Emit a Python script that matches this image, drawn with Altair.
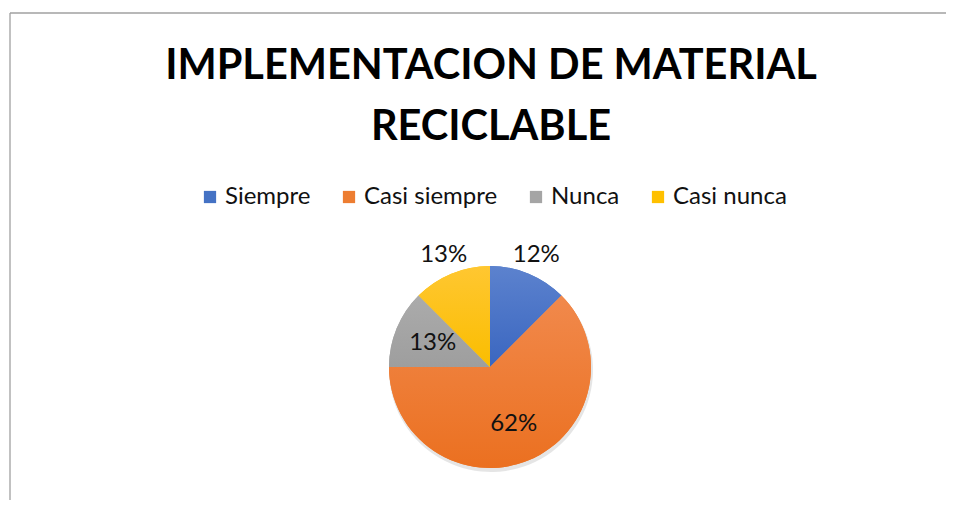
import altair as alt
import pandas as pd

categories = ["Siempre", "Casi siempre", "Nunca", "Casi nunca"]
values = [12.5, 62.5, 12.5, 12.5]
labels = ["12%", "62%", "13%", "13%"]
colors = ["#4472C4", "#ED7D31", "#A5A5A5", "#FFC000"]
light = ["#5C82CE", "#F1894C", "#ABABAB", "#FFC731"]
dark = ["#3A66C0", "#EB7020", "#9E9E9E", "#FABD00"]
outside = ["Siempre", "Casi nunca"]
title_lines = ["IMPLEMENTACION DE MATERIAL", "RECICLABLE"]

df = pd.DataFrame({
    "categoria": categories,
    "valor": values,
    "etiqueta": labels,
    "orden": list(range(len(categories))),
})

W, H = 938, 492
CX, CY = 482, 359
R = 101
FONT = "Lato"
TWO_PI = 6.283185307

color = alt.Color(
    "categoria:N",
    scale=alt.Scale(domain=categories, range=colors),
    sort=categories,
    legend=alt.Legend(
        title=None,
        orient="none",
        legendX=190,
        legendY=177,
        direction="horizontal",
        symbolType="square",
        symbolSize=150,
        symbolStrokeWidth=0,
        labelFont=FONT,
        labelFontSize=24,
        labelColor="#111111",
        labelOffset=3,
        columnPadding=26,
        padding=0,
    ),
)

ang = alt.Scale(domain=[0, 1], range=[0, TWO_PI])

base = alt.Chart(df).transform_joinaggregate(
    total="sum(valor)"
).transform_window(
    cum="sum(valor)", sort=[alt.SortField("orden")]
).transform_calculate(
    f0="(datum.cum - datum.valor) / datum.total",
    f1="datum.cum / datum.total",
    fm="(datum.cum - datum.valor / 2) / datum.total",
).encode(x=alt.value(CX), y=alt.value(CY))

arc_enc = dict(
    theta=alt.Theta("f0:Q", scale=ang),
    theta2=alt.Theta2("f1:Q"),
)

shadow = base.mark_arc(outerRadius=R + 1, color="#000000", opacity=0.10).encode(
    x=alt.value(CX + 1), y=alt.value(CY + 3), **arc_enc
)

pie = base.mark_arc(outerRadius=R).encode(color=color, **arc_enc)

overlays = []
for cat, lo, hi in zip(categories, light, dark):
    overlays.append(
        base.transform_filter(alt.datum.categoria == cat).mark_arc(
            outerRadius=R,
            color=alt.Gradient(
                gradient="linear",
                x1=0, y1=0, x2=0, y2=1,
                stops=[alt.GradientStop(offset=0, color=lo), alt.GradientStop(offset=1, color=hi)],
            ),
        ).encode(**arc_enc)
    )

is_out = alt.FieldOneOfPredicate(field="categoria", oneOf=outside)

lab_out = base.mark_text(radius=121, font=FONT, fontSize=24, color="#111111").encode(
    theta=alt.Theta("fm:Q", scale=ang),
    text=alt.condition(is_out, alt.Text("etiqueta:N"), alt.value("")),
)
lab_in = base.mark_text(radius=62, font=FONT, fontSize=24, color="#111111").encode(
    theta=alt.Theta("fm:Q", scale=ang),
    text=alt.condition(is_out, alt.value(""), alt.Text("etiqueta:N")),
)

one = pd.DataFrame({"k": [0]})
title = alt.Chart(one).mark_text(
    text=title_lines,
    font=FONT,
    fontSize=41.5,
    fontWeight="bold",
    lineHeight=61,
    align="center",
    baseline="alphabetic",
    color="#000000",
).encode(x=alt.value(483), y=alt.value(71))

top_rule = alt.Chart(one).mark_rule(stroke="#A0A0A0", strokeWidth=1.3).encode(
    x=alt.value(2), x2=alt.value(W), y=alt.value(5)
)
left_rule = alt.Chart(one).mark_rule(stroke="#A0A0A0", strokeWidth=1.3).encode(
    x=alt.value(2), y=alt.value(5), y2=alt.value(H)
)

chart = alt.layer(
    top_rule, left_rule, shadow, pie, *overlays, lab_out, lab_in, title
).properties(
    width=W, height=H, padding=0, autosize=alt.AutoSizeParams(type="none")
).configure(
    background="#ffffff", view=alt.ViewConfig(stroke=None)
)

chart.save("out.html", embed_options={"renderer": "svg", "actions": False})
